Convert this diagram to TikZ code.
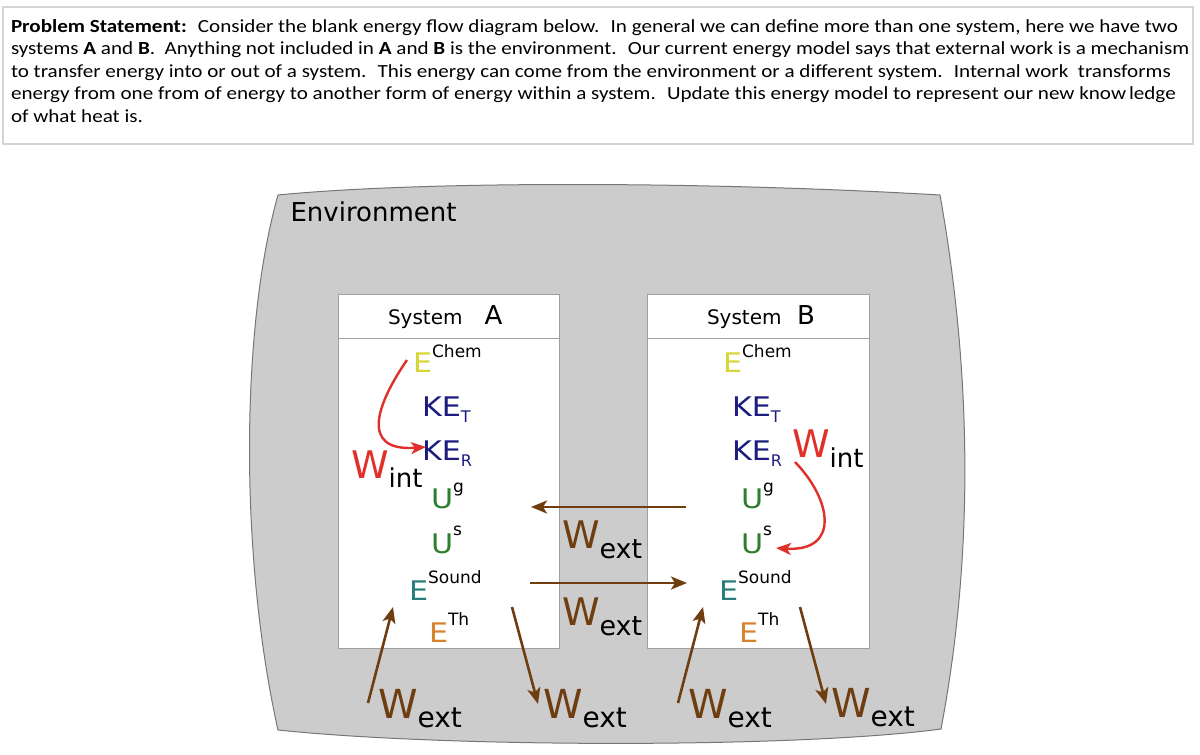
\documentclass[tikz,border=0pt]{standalone}
\usepackage{fontspec}
\setmainfont{DejaVu Sans}
\newfontfamily\carl[FakeStretch=1.14]{Carlito}
\newfontfamily\dvw[FakeStretch=1.12]{DejaVu Sans}
\usetikzlibrary{arrows.meta}
\definecolor{envfill}{HTML}{CCCCCC}
\definecolor{envline}{HTML}{767676}
\definecolor{boxline}{HTML}{A0A0A0}
\definecolor{probline}{HTML}{D4D4D4}
\definecolor{cchem}{HTML}{D6D63A}
\definecolor{cke}{HTML}{1C1C7E}
\definecolor{cu}{HTML}{2E7E2E}
\definecolor{csound}{HTML}{2A7B7B}
\definecolor{cth}{HTML}{D9822B}
\definecolor{wred}{HTML}{E0302A}
\definecolor{wbrown}{HTML}{6E3D10}
\newcommand{\fsz}[1]{\fontsize{#1}{#1}\selectfont}
\newcommand{\esup}[4]{{\dvw\fsz{27}\color{#1}#2}\raisebox{#4pt}{\fsz{17}\color{black}#3}}
\newcommand{\esub}[2]{{\dvw\fsz{27}\color{cke}#1}\raisebox{-6pt}{\fsz{16}\color{cke}#2}}
\newcommand{\wlab}[6]{{\fsz{#1}\color{#3}W}\raisebox{-#5pt}{\fsz{#2}\color{black}#4}}
\tikzset{
  lab/.style={inner sep=0pt, outer sep=0pt, anchor=base west},
  ptext/.style={inner sep=0pt, outer sep=0pt, anchor=base west, font=\carl\fsz{18.5}},
  sysbox/.style={draw=boxline, line width=0.9pt, fill=white},
  brownarrow/.style={draw=wbrown, line width=2.6pt, -{Stealth[length=16pt,width=13pt,inset=4pt]}},
  redarrow/.style={draw=wred, line width=2.4pt, -{Stealth[length=15pt,width=12pt,inset=4pt]}}
}
\begin{document}
\begin{tikzpicture}[x=1pt,y=-1pt]
\useasboundingbox (0,0) rectangle (1200,755);
% problem statement
\draw[draw=probline, line width=1.8pt] (3,7) rectangle (1193,144);
\node[ptext] (p1) at (11,32) {\textbf{Problem Statement:}~ Consider the blank energy flow diagram below.~ In general we can define more than one system, here we have two};
\node[ptext] (p2) at (11,54.5) {systems \textbf{A} and \textbf{B}.~ Anything not included in \textbf{A} and \textbf{B} is the environment.~ Our current energy model says that external work is a mechanism};
\node[ptext] (p3) at (11,77) {to transfer energy into or out of a system.~ This energy can come from the environment or a different system.~ Internal work~ transforms};
\node[ptext] (p4) at (11,99.5) {energy from one from of energy to another form of energy within a system.~ Update this energy model to represent our new know\hspace{3pt}ledge};
\node[ptext] (p5) at (11,122) {of what heat is.};
% environment
\path[draw=envline, line width=1pt, fill=envfill]
  (278,195) .. controls (420,181) and (700,181) .. (940,195)
  .. controls (973,380) and (973,560) .. (941,729)
  .. controls (800,748) and (450,748) .. (278,730)
  .. controls (240,560) and (240,330) .. (278,195) -- cycle;
\node[lab, font=\fsz{26}] (env) at (290.5,221.5) {Environment};
% systems
\draw[sysbox] (338,294) rectangle (559,648);
\draw[draw=boxline, line width=0.9pt] (338,338) -- (559,338);
\draw[sysbox] (647,294) rectangle (869,648);
\draw[draw=boxline, line width=0.9pt] (647,338) -- (869,338);
\node[lab, font=\fsz{20}] (sa) at (388,324) {System};
\node[lab, font=\fsz{26}] (sal) at (484.5,324) {A};
\node[lab, font=\fsz{20}] (sb) at (707,324) {System};
\node[lab, font=\fsz{26}] (sbl) at (797,324) {B};
% energy forms, system A
\node[lab] (achem) at (413,372) {\esup{cchem}{E}{Chem}{15}};
\node[lab] (aket) at (422,416) {\esub{KE}{T}};
\node[lab] (aker) at (422,460) {\esub{KE}{R}};
\node[lab] (aug) at (431,508) {\esup{cu}{U}{g}{16}};
\node[lab] (aus) at (431,553) {\esup{cu}{U}{s}{18}};
\node[lab] (asound) at (409,600) {\esup{csound}{E}{Sound}{17}};
\node[lab] (ath) at (429,642) {\esup{cth}{E}{Th}{17}};
% energy forms, system B
\node[lab] (bchem) at (723,372) {\esup{cchem}{E}{Chem}{15}};
\node[lab] (bket) at (732,416) {\esub{KE}{T}};
\node[lab] (bker) at (732,460) {\esub{KE}{R}};
\node[lab] (bug) at (741,508) {\esup{cu}{U}{g}{16}};
\node[lab] (bus) at (741,553) {\esup{cu}{U}{s}{18}};
\node[lab] (bsound) at (719,600) {\esup{csound}{E}{Sound}{17}};
\node[lab] (bth) at (739,642) {\esup{cth}{E}{Th}{17}};
% internal work
\node[lab] (wia) at (351,478) {\wlab{38}{26}{wred}{int}{9}{}};
\node[lab] (wib) at (792,457) {\wlab{38}{26}{wred}{int}{10}{}};
\coordinate (ra1) at (407,360);
\coordinate (ra2) at (426,447);
\draw[redarrow] (ra1) .. controls (378,402) and (358,452) .. (ra2);
\coordinate (rb1) at (795,462);
\coordinate (rb2) at (776,548);
\draw[redarrow] (rb1) .. controls (832,500) and (840,552) .. (rb2);
% external work between systems
\coordinate (h1t) at (686,507);
\coordinate (h1h) at (531,507);
\draw[brownarrow] (h1t) -- (h1h);
\coordinate (h2t) at (530,583);
\coordinate (h2h) at (687,583);
\draw[brownarrow] (h2t) -- (h2h);
\node[lab] (wm1) at (562,548) {\wlab{38}{27}{wbrown}{ext}{10}{}};
\node[lab] (wm2) at (562,625) {\wlab{38}{27}{wbrown}{ext}{10}{}};
% external work with environment
\coordinate (a1t) at (368,703);
\coordinate (a1h) at (393,607);
\draw[brownarrow] (a1t) -- (a1h);
\coordinate (a2t) at (512,607);
\coordinate (a2h) at (538,704);
\draw[brownarrow] (a2t) -- (a2h);
\coordinate (b1t) at (678,703);
\coordinate (b1h) at (703,607);
\draw[brownarrow] (b1t) -- (b1h);
\coordinate (b2t) at (800,607);
\coordinate (b2h) at (826,704);
\draw[brownarrow] (b2t) -- (b2h);
\node[lab] (we1) at (378,718) {\wlab{40}{28}{wbrown}{ext}{9}{}};
\node[lab] (we2) at (543,718) {\wlab{40}{28}{wbrown}{ext}{9}{}};
\node[lab] (we3) at (688,718) {\wlab{40}{28}{wbrown}{ext}{9}{}};
\node[lab] (we4) at (831,717) {\wlab{40}{28}{wbrown}{ext}{9}{}};
\end{tikzpicture}
\end{document}
